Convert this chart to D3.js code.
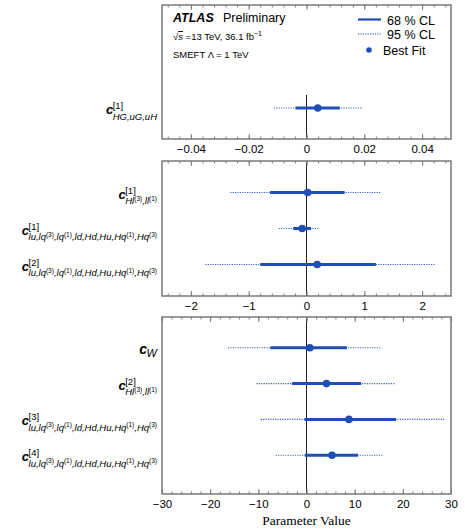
<!DOCTYPE html>
<html>
<head>
<meta charset="utf-8">
<script src="https://cdn.jsdelivr.net/npm/d3@7"></script>
<style>
  html, body { margin: 0; padding: 0; background: #fff; }
  svg { display: block; }
</style>
</head>
<body>
<div id="chart"></div>
<script>
// Coefficient labels: sup is the eigenvector index, sub uses ^(...) for nested superscripts
const labels1 = [{ sup: "[1]", sub: "HG,uG,uH" }];
const labels2 = [
  { sup: "[1]", sub: "Hl^(3),ll^(1)" },
  { sup: "[1]", sub: "lu,lq^(3),lq^(1),ld,Hd,Hu,Hq^(1),Hq^(3)" },
  { sup: "[2]", sub: "lu,lq^(3),lq^(1),ld,Hd,Hu,Hq^(1),Hq^(3)" }
];
const labels3 = [
  { sup: "", sub: "W" },
  { sup: "[2]", sub: "Hl^(3),ll^(1)" },
  { sup: "[3]", sub: "lu,lq^(3),lq^(1),ld,Hd,Hu,Hq^(1),Hq^(3)" },
  { sup: "[4]", sub: "lu,lq^(3),lq^(1),ld,Hd,Hu,Hq^(1),Hq^(3)" }
];

// best fit values and 68% / 95% CL intervals
const best1 = [0.0039];
const lo68_1 = [-0.0038];
const hi68_1 = [0.0115];
const lo95_1 = [-0.0113];
const hi95_1 = [0.0195];

const best2 = [0.02, -0.075, 0.185];
const lo68_2 = [-0.63, -0.23, -0.80];
const hi68_2 = [0.66, 0.08, 1.20];
const lo95_2 = [-1.32, -0.48, -1.75];
const hi95_2 = [1.28, 0.21, 2.22];

const best3 = [0.7, 4.15, 8.8, 5.3];
const lo68_3 = [-7.5, -3.0, -0.4, -0.35];
const hi68_3 = [8.4, 11.35, 18.6, 10.7];
const lo95_3 = [-16.3, -10.4, -9.5, -6.4];
const hi95_3 = [15.6, 18.5, 28.6, 16.0];

// axis ticks
const ticks1 = [-0.04, -0.02, 0, 0.02, 0.04];
const ticks2 = [-2, -1, 0, 1, 2];
const ticks3 = [-30, -20, -10, 0, 10, 20, 30];

const W = 465, H = 529;
const left = 162, right = 451;
const blue = "#1f4fb6";
const frameCol = "#7a7a7a";
const sans = "'Liberation Sans', Arial, Helvetica, sans-serif";

const svg = d3.select("#chart").append("svg")
  .attr("width", W).attr("height", H);

const panels = [
  { top: 5, bottom: 139, rows: [77, 139], pad: 0.5, zeroTop: 95,
    domain: [-0.05, 0.05], ticks: ticks1, minor: 0.004, fmt: d3.format(".2~f"),
    labels: labels1, best: best1, lo68: lo68_1, hi68: hi68_1, lo95: lo95_1, hi95: hi95_1 },
  { top: 161, bottom: 296, rows: [161, 296], pad: 0.875, zeroTop: 161,
    domain: [-2.5, 2.5], ticks: ticks2, minor: 0.2, fmt: d3.format("d"),
    labels: labels2, best: best2, lo68: lo68_2, hi68: hi68_2, lo95: lo95_2, hi95: hi95_2 },
  { top: 317, bottom: 494, rows: [317, 486], pad: 0.86, zeroTop: 317,
    domain: [-30, 30], ticks: ticks3, minor: 2, fmt: d3.format("d"),
    labels: labels3, best: best3, lo68: lo68_3, hi68: hi68_3, lo95: lo95_3, hi95: hi95_3 }
];

// draws c^{sup}_{sub} right-aligned at xr, centred on row y
function drawLabel(g, lab, xr, y) {
  const noSup = lab.sup === "";
  const sub = g.append("text")
    .attr("y", y + (noSup ? 9.5 : 11.5))
    .attr("font-family", sans).attr("font-style", "italic")
    .attr("font-size", noSup ? 11 : 9.5).attr("fill", "#000");
  const parts = lab.sub.split(/(\^\([^)]*\))/).filter(s => s.length);
  let raised = false;
  parts.forEach(p => {
    if (p.startsWith("^")) {
      sub.append("tspan").attr("font-size", 6.5).attr("font-style", "normal")
        .attr("dy", -3.5).text(p.slice(1));
      raised = true;
    } else {
      sub.append("tspan").attr("dy", raised ? 3.5 : 0).text(p);
      raised = false;
    }
  });
  const subW = sub.node().getComputedTextLength();
  let supW = 0, supT = null;
  if (!noSup) {
    supT = g.append("text").attr("y", y + 1)
      .attr("font-family", sans).attr("font-size", 9.5).attr("fill", "#000")
      .text(lab.sup);
    supW = supT.node().getComputedTextLength();
  }
  const x0 = xr - Math.max(subW, supW);
  sub.attr("x", x0);
  if (supT) supT.attr("x", x0);
  g.append("text").attr("x", x0 + 0.5).attr("y", y + 6)
    .attr("text-anchor", "end")
    .attr("font-family", sans).attr("font-style", "italic").attr("font-weight", "bold")
    .attr("font-size", noSup ? 14 : 13).attr("fill", "#000")
    .text("c");
}

panels.forEach(p => {
  const g = svg.append("g");
  const x = d3.scaleLinear().domain(p.domain).range([left, right]);
  const y = d3.scalePoint().domain(d3.range(p.labels.length)).range(p.rows).padding(p.pad);

  // zero line
  g.append("line")
    .attr("x1", x(0)).attr("x2", x(0))
    .attr("y1", p.zeroTop).attr("y2", p.bottom)
    .attr("stroke", "#222").attr("stroke-width", 1);

  // minor tick positions along the axis
  const minorTicks = d3.range(Math.ceil(p.domain[0] / p.minor), Math.floor(p.domain[1] / p.minor) + 1)
    .map(k => +(k * p.minor).toFixed(6));

  const styleAxis = sel => {
    sel.select(".domain").remove();
    sel.selectAll(".tick line").attr("stroke", frameCol);
  };

  // bottom axis with labels
  g.append("g").attr("transform", `translate(0,${p.bottom})`)
    .call(d3.axisBottom(x).tickValues(p.ticks).tickSize(-5).tickPadding(6).tickFormat(p.fmt))
    .call(styleAxis)
    .call(a => a.selectAll(".tick text")
      .attr("font-family", sans).attr("font-size", 11.5).attr("fill", "#000"));
  g.append("g").attr("transform", `translate(0,${p.bottom})`)
    .call(d3.axisBottom(x).tickValues(minorTicks).tickSize(-2.5).tickFormat(""))
    .call(styleAxis);

  // mirrored ticks on the top edge
  g.append("g").attr("transform", `translate(0,${p.top})`)
    .call(d3.axisTop(x).tickValues(p.ticks).tickSize(-5).tickFormat(""))
    .call(styleAxis);
  g.append("g").attr("transform", `translate(0,${p.top})`)
    .call(d3.axisTop(x).tickValues(minorTicks).tickSize(-2.5).tickFormat(""))
    .call(styleAxis);

  // frame
  g.append("rect")
    .attr("x", left).attr("y", p.top)
    .attr("width", right - left).attr("height", p.bottom - p.top)
    .attr("fill", "none").attr("stroke", frameCol).attr("stroke-width", 1.5);

  // 95% CL (dotted)
  g.selectAll(".cl95").data(p.best).join("line")
    .attr("x1", (d, i) => x(p.lo95[i])).attr("x2", (d, i) => x(p.hi95[i]))
    .attr("y1", (d, i) => y(i)).attr("y2", (d, i) => y(i))
    .attr("stroke", "#3a64c4").attr("stroke-width", 1.1)
    .attr("stroke-dasharray", "1.2,1.2");

  // 68% CL (solid)
  g.selectAll(".cl68").data(p.best).join("line")
    .attr("x1", (d, i) => x(p.lo68[i])).attr("x2", (d, i) => x(p.hi68[i]))
    .attr("y1", (d, i) => y(i)).attr("y2", (d, i) => y(i))
    .attr("stroke", blue).attr("stroke-width", 3);

  // best fit points
  g.selectAll(".bf").data(p.best).join("circle")
    .attr("cx", d => x(d)).attr("cy", (d, i) => y(i))
    .attr("r", 3.8).attr("fill", blue);

  p.labels.forEach((lab, i) => drawLabel(g, lab, 157, y(i)));
});

// header text in the first panel
const hdr = svg.append("g").attr("font-family", sans).attr("fill", "#000");
hdr.append("text").attr("x", 173).attr("y", 22)
  .attr("font-size", 12.5).attr("font-weight", "bold").attr("font-style", "italic")
  .text("ATLAS");
hdr.append("text").attr("x", 223).attr("y", 22)
  .attr("font-size", 12.5).text("Preliminary");

const energy = hdr.append("text").attr("x", 173).attr("y", 40).attr("font-size", 9.5);
energy.append("tspan").text("\u221A");
energy.append("tspan").attr("font-style", "italic")
  .style("text-decoration", "overline").text("s");
energy.append("tspan").text(" =13 TeV, 36.1 fb");
energy.append("tspan").attr("font-size", 7).attr("dy", -4).text("\u22121");

hdr.append("text").attr("x", 173).attr("y", 58).attr("font-size", 9.5)
  .text("SMEFT \u039B = 1 TeV");

// legend
const leg = svg.append("g").attr("font-family", sans).attr("fill", "#000");
leg.append("line").attr("x1", 358).attr("x2", 381).attr("y1", 19.5).attr("y2", 19.5)
  .attr("stroke", blue).attr("stroke-width", 2.2);
leg.append("text").attr("x", 387).attr("y", 24.5).attr("font-size", 12.5).text("68 % CL");
leg.append("line").attr("x1", 358).attr("x2", 381).attr("y1", 34).attr("y2", 34)
  .attr("stroke", blue).attr("stroke-width", 1.2).attr("stroke-dasharray", "1.2,1.2");
leg.append("text").attr("x", 387).attr("y", 39).attr("font-size", 12.5).text("95 % CL");
leg.append("circle").attr("cx", 369).attr("cy", 50).attr("r", 2.8).attr("fill", blue);
leg.append("text").attr("x", 383).attr("y", 55).attr("font-size", 12.5).text("Best Fit");

// x axis title
svg.append("text").attr("x", (left + right) / 2).attr("y", 525)
  .attr("text-anchor", "middle")
  .attr("font-family", "'Liberation Serif', 'Times New Roman', serif")
  .attr("font-size", 13.5).attr("fill", "#000")
  .text("Parameter Value");
</script>
</body>
</html>
